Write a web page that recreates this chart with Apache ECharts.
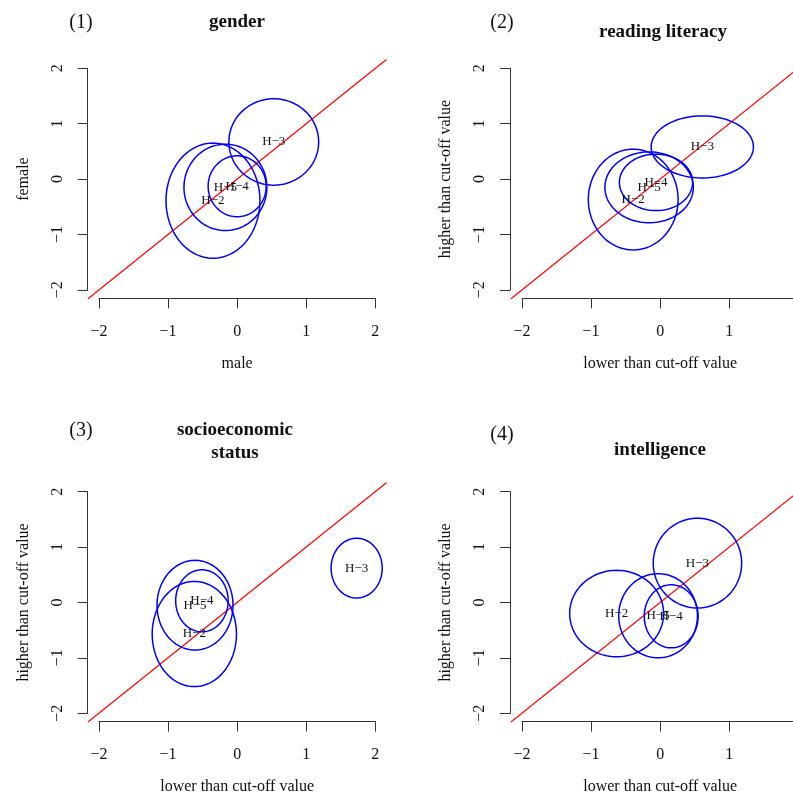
<!DOCTYPE html>
<html>
<head>
<meta charset="utf-8">
<script src="https://cdn.jsdelivr.net/npm/echarts@6.0.0/dist/echarts.min.js"></script>
<style>
  html, body { margin: 0; padding: 0; background: #fff; }
  #chart { width: 793px; height: 798px; }
</style>
</head>
<body>
<div id="chart"></div>
<script>
// group names, same order as the rows below
const groups = ['H\u22122', 'H\u22123', 'H\u22124', 'H\u22125']

// each row: [centre x, centre y, radius x, radius y]
const genderEllipses = [
  [-0.35, -0.39, 0.68, 1.04],
  [0.53, 0.67, 0.65, 0.78],
  [0.00, -0.13, 0.42, 0.55],
  [-0.17, -0.15, 0.60, 0.78]
]
const readingEllipses = [
  [-0.39, -0.37, 0.65, 0.91],
  [0.61, 0.58, 0.74, 0.56],
  [-0.06, -0.06, 0.53, 0.51],
  [-0.16, -0.15, 0.64, 0.64]
]
const sesEllipses = [
  [-0.62, -0.57, 0.61, 0.95],
  [1.73, 0.62, 0.37, 0.54],
  [-0.51, 0.03, 0.38, 0.56],
  [-0.61, -0.05, 0.55, 0.81]
]
const intelligenceEllipses = [
  [-0.63, -0.20, 0.68, 0.78],
  [0.54, 0.71, 0.64, 0.81],
  [0.16, -0.25, 0.39, 0.57],
  [-0.03, -0.24, 0.57, 0.76]
]

const panelNumbers = ['(1)', '(2)', '(3)', '(4)']
const panelTitles = ['gender', 'reading literacy', 'socioeconomic\nstatus', 'intelligence']
const xNames = ['male', 'lower than cut-off value', 'lower than cut-off value', 'lower than cut-off value']
const yNames = ['female', 'higher than cut-off value', 'higher than cut-off value', 'higher than cut-off value']
const tickLabels = ['\u22122', '\u22121', '0', '1', '2']
const axisRange = [-2, 2]
const identityRange = [-2.16, 2.16]   // y = x drawn across the whole plot region

const panelData = [genderEllipses, readingEllipses, sesEllipses, intelligenceEllipses]

const FONT = '"Liberation Serif", "DejaVu Serif", serif'
const BLUE = '#0000ff'
const RED = '#ff0000'

// pixel layout of the four panels (grid = span of ticks -2..2)
const layout = [
  { left: 99, top: 68.3, xOff: 8.6, yOff: 11.3, num: [81, 22.5], title: [237, 22] },
  { left: 522, top: 68.3, xOff: 8.6, yOff: 12, num: [502, 23], title: [663, 32] },
  { left: 99, top: 491.7, xOff: 8.4, yOff: 11.3, num: [81, 431], title: [235, 441.5] },
  { left: 522, top: 491.7, xOff: 8.4, yOff: 12, num: [502, 435], title: [660, 450] }
]

const tickValue = v => tickLabels[v + 2]

const grids = [], xAxes = [], yAxes = [], series = [], graphics = []

layout.forEach((p, i) => {
  grids.push({ left: p.left, top: p.top, width: 276.3, height: 221.5, containLabel: false, outerBoundsMode: 'none' })

  xAxes.push({
    gridIndex: i, type: 'value', min: axisRange[0], max: axisRange[1], interval: 1,
    position: 'bottom', offset: p.xOff,
    name: xNames[i], nameLocation: 'middle', nameGap: 57,
    nameTextStyle: { fontFamily: FONT, fontSize: 16, color: '#111' },
    axisLine: { show: true, onZero: false, lineStyle: { color: '#333', width: 1 } },
    axisTick: { show: true, length: 10, lineStyle: { color: '#333' } },
    axisLabel: { margin: 25, fontFamily: FONT, fontSize: 16, color: '#111', formatter: tickValue, hideOverlap: false, showMaxLabel: true, showMinLabel: true },
    splitLine: { show: false }
  })

  yAxes.push({
    gridIndex: i, type: 'value', min: axisRange[0], max: axisRange[1], interval: 1,
    position: 'left', offset: p.yOff,
    name: yNames[i], nameLocation: 'middle', nameGap: 56, nameRotate: 90,
    nameTextStyle: { fontFamily: FONT, fontSize: 16, color: '#111' },
    axisLine: { show: true, onZero: false, lineStyle: { color: '#333', width: 1 } },
    axisTick: { show: true, length: 10, lineStyle: { color: '#333' } },
    axisLabel: { margin: 22, rotate: 90, fontFamily: FONT, fontSize: 16, color: '#111', formatter: tickValue, showMaxLabel: true, showMinLabel: true },
    splitLine: { show: false }
  })

  // red identity line
  series.push({
    type: 'custom', xAxisIndex: i, yAxisIndex: i, clip: false, silent: true,
    data: [identityRange],
    renderItem: (params, api) => {
      const a = api.coord([api.value(0), api.value(0)])
      const b = api.coord([api.value(1), api.value(1)])
      return {
        type: 'line',
        shape: { x1: a[0], y1: a[1], x2: b[0], y2: b[1] },
        style: { stroke: RED, lineWidth: 1.2 }
      }
    }
  })

  // ellipses
  series.push({
    type: 'custom', xAxisIndex: i, yAxisIndex: i, clip: false, silent: true,
    data: panelData[i],
    renderItem: (params, api) => {
      const cx = api.value(0), cy = api.value(1), rx = api.value(2), ry = api.value(3)
      const pts = []
      for (let k = 0; k < 120; k++) {
        const t = k / 120 * Math.PI * 2
        pts.push(api.coord([cx + rx * Math.cos(t), cy + ry * Math.sin(t)]))
      }
      return {
        type: 'polygon',
        shape: { points: pts },
        style: { fill: 'none', stroke: BLUE, lineWidth: 1.5 }
      }
    }
  })

  // group labels at ellipse centres
  series.push({
    type: 'custom', xAxisIndex: i, yAxisIndex: i, clip: false, silent: true,
    data: panelData[i],
    renderItem: (params, api) => {
      const c = api.coord([api.value(0), api.value(1)])
      return {
        type: 'text', x: c[0], y: c[1],
        style: {
          text: groups[params.dataIndex], fill: '#111',
          font: '13px ' + FONT, align: 'center', verticalAlign: 'middle'
        }
      }
    }
  })

  graphics.push({
    type: 'text', x: p.num[0], y: p.num[1],
    style: { text: panelNumbers[i], font: '20px ' + FONT, fill: '#111', align: 'center', verticalAlign: 'middle' }
  })
  graphics.push({
    type: 'text', x: p.title[0], y: p.title[1],
    style: { text: panelTitles[i], font: 'bold 19px ' + FONT, fill: '#111', align: 'center', verticalAlign: 'middle', lineHeight: 23 }
  })
})

const chart = echarts.init(document.getElementById('chart'), null, { renderer: 'canvas' })
chart.setOption({
  backgroundColor: '#fff',
  animation: false,
  grid: grids,
  xAxis: xAxes,
  yAxis: yAxes,
  series: series,
  graphic: graphics
})

window.addEventListener('resize', () => chart.resize())
</script>
</body>
</html>
